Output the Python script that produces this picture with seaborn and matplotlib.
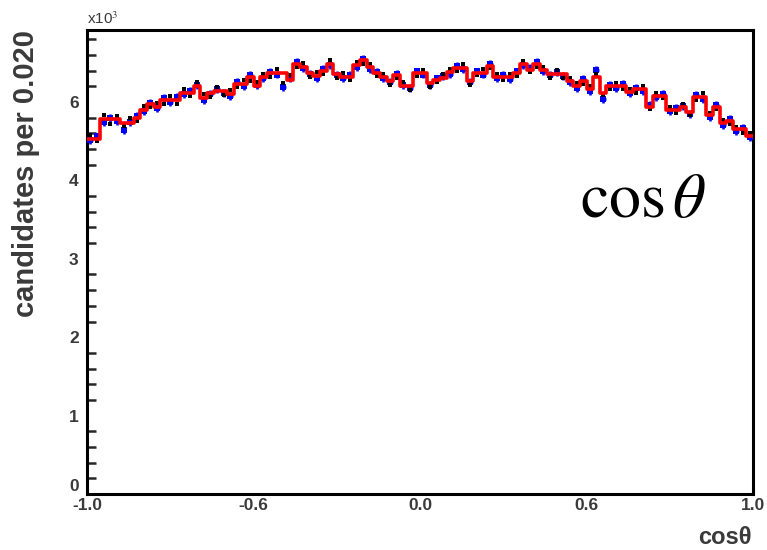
import numpy as np
import pandas as pd
import matplotlib
matplotlib.use("Agg")
import matplotlib.pyplot as plt
import seaborn as sns
from matplotlib.ticker import FixedLocator, MultipleLocator

# ---- data (units of 10^3 candidates per 0.020 bin) ----
bin_edges = np.linspace(-1.0, 1.0, 101)
fit_red = [4.53, 4.53, 4.78, 4.78, 4.78, 4.73, 4.73, 4.80, 4.90, 4.98,
           4.94, 5.02, 5.03, 5.03, 5.12, 5.12, 5.20, 5.05, 5.12, 5.14,
           5.14, 5.10, 5.23, 5.23, 5.32, 5.21, 5.32, 5.37, 5.37, 5.37,
           5.28, 5.49, 5.45, 5.37, 5.33, 5.40, 5.49, 5.36, 5.32, 5.32,
           5.47, 5.53, 5.45, 5.37, 5.32, 5.27, 5.34, 5.20, 5.20, 5.37,
           5.37, 5.24, 5.28, 5.31, 5.38, 5.44, 5.44, 5.27, 5.37, 5.37,
           5.46, 5.32, 5.32, 5.32, 5.37, 5.49, 5.41, 5.49, 5.41, 5.36,
           5.36, 5.36, 5.27, 5.20, 5.27, 5.16, 5.32, 5.12, 5.20, 5.20,
           5.20, 5.13, 5.16, 5.16, 4.94, 5.08, 5.08, 4.90, 4.90, 4.93,
           4.87, 5.07, 5.07, 4.83, 4.94, 4.73, 4.76, 4.65, 4.65, 4.57]
data_blue = [4.52, 4.56, 4.74, 4.80, 4.76, 4.64, 4.75, 4.82, 4.88, 4.99,
             4.92, 5.05, 5.00, 5.06, 5.10, 5.14, 5.22, 5.02, 5.10, 5.16,
             5.12, 5.08, 5.25, 5.20, 5.34, 5.22, 5.30, 5.38, 5.35, 5.19,
             5.30, 5.51, 5.43, 5.36, 5.31, 5.42, 5.47, 5.35, 5.30, 5.34,
             5.45, 5.55, 5.42, 5.38, 5.30, 5.25, 5.36, 5.22, 5.18, 5.39,
             5.35, 5.22, 5.30, 5.33, 5.36, 5.46, 5.42, 5.25, 5.39, 5.35,
             5.48, 5.30, 5.34, 5.29, 5.39, 5.47, 5.43, 5.51, 5.39, 5.34,
             5.38, 5.33, 5.25, 5.18, 5.29, 5.14, 5.41, 5.04, 5.22, 5.18,
             5.23, 5.11, 5.18, 5.14, 4.96, 5.06, 5.10, 4.88, 4.92, 4.95,
             4.85, 5.09, 5.04, 4.81, 4.96, 4.71, 4.78, 4.63, 4.67, 4.55]
data_black = [4.58, 4.50, 4.84, 4.72, 4.82, 4.70, 4.80, 4.76, 4.95, 4.93,
              4.99, 4.98, 5.08, 4.98, 5.16, 5.08, 5.25, 5.10, 5.06, 5.19,
              5.09, 5.15, 5.19, 5.28, 5.27, 5.26, 5.36, 5.32, 5.42, 5.24,
              5.34, 5.45, 5.50, 5.32, 5.38, 5.36, 5.53, 5.30, 5.37, 5.28,
              5.51, 5.49, 5.48, 5.33, 5.36, 5.22, 5.30, 5.25, 5.15, 5.33,
              5.41, 5.19, 5.26, 5.36, 5.42, 5.40, 5.48, 5.22, 5.34, 5.42,
              5.43, 5.36, 5.28, 5.36, 5.33, 5.52, 5.38, 5.45, 5.45, 5.30,
              5.41, 5.31, 5.30, 5.24, 5.23, 5.20, 5.36, 5.09, 5.16, 5.24,
              5.17, 5.16, 5.12, 5.20, 4.91, 5.12, 5.05, 4.93, 4.86, 4.98,
              4.83, 5.03, 5.11, 4.86, 4.91, 4.77, 4.72, 4.68, 4.61, 4.60]
data_err = 0.05

x_tick_pos = [-1.0, -0.5, 0.0, 0.5, 1.0]
x_tick_labels = ["-1.0", "-0.6", "0.0", "0.6", "1.0"]
y_tick_pos = [0, 1, 2, 3, 4, 5]
y_tick_labels = ["0", "1", "2", "3", "4", "6"]

centers = 0.5 * (bin_edges[:-1] + bin_edges[1:])
df = pd.DataFrame({"x": centers, "fit": fit_red, "blue": data_blue, "black": data_black})

sns.set_style("white")
plt.rcParams["font.family"] = ["Liberation Sans", "DejaVu Sans"]
plt.rcParams["mathtext.fontset"] = "stix"

fig = plt.figure(figsize=(7.67, 5.5), dpi=100)
ax = fig.add_axes([87 / 767, 1 - 494 / 550, (753 - 87) / 767, (494 - 30) / 550])

# blue data points with error bars
ax.errorbar(df["x"], df["blue"], xerr=0.008, yerr=data_err, fmt="none",
            ecolor="#0a0aee", elinewidth=1.9, capsize=0, zorder=2)
sns.scatterplot(data=df, x="x", y="blue", ax=ax, color="#0000ff", marker="s",
                s=14, linewidth=0, zorder=3, legend=False)
# black points
sns.scatterplot(data=df, x="x", y="black", ax=ax, color="black", marker="s",
                s=5, linewidth=0, zorder=3, legend=False)
# red histogram
sns.histplot(data=df, x="x", weights="fit", binwidth=0.02, binrange=(-1.0, 1.0),
             element="step", fill=False, color="#ff0000", linewidth=2.6,
             ax=ax, zorder=4)

ax.set_xlim(-1.0, 1.0)
ax.set_ylim(0, (494 - 30) / 78.4)
ax.set_xlabel("")
ax.set_ylabel("")

ax.xaxis.set_major_locator(FixedLocator(x_tick_pos))
ax.set_xticklabels(x_tick_labels)
ax.yaxis.set_major_locator(FixedLocator(y_tick_pos))
ax.set_yticklabels(y_tick_labels)
ax.yaxis.set_minor_locator(MultipleLocator(0.2))

ax.tick_params(axis="x", which="major", direction="in", length=9.5, width=1.8,
               labelsize=12.5, labelcolor="#3a3a3a", pad=3, top=False)
ax.tick_params(axis="y", which="major", direction="in", length=15, width=1.8,
               labelsize=12.5, labelcolor="#3a3a3a", pad=6, right=False)
ax.tick_params(axis="y", which="minor", direction="in", length=6.5, width=1.8,
               left=True, right=False)
for lab in ax.get_xticklabels() + ax.get_yticklabels():
    lab.set_fontweight("bold")
# lift the "0" label a bit, as in the reference
ax.get_yticklabels()[0].set_va("bottom")

for side, sp in ax.spines.items():
    sp.set_visible(True)
    sp.set_color("black")
    sp.set_linewidth(2.2)

# texts
fig.text(26 / 767, 1 - 30 / 550, "candidates per 0.020", rotation=90,
         ha="center", va="top", fontsize=21, fontweight="bold", color="#3a3a3a")
fig.text(752 / 767, 1 - 537 / 550, "cos\u03b8", ha="right", va="center",
         fontsize=17, fontweight="bold", color="#3a3a3a")
fig.text(87 / 767, 1 - 19 / 550, r"x10$^{3}$", ha="left", va="center",
         fontsize=11, color="#3a3a3a")
ax.text(0.835, 0.634, r"$\cos\theta$", transform=ax.transAxes, ha="center",
        va="center", fontsize=46, color="black")

fig.savefig("out.png", dpi=100, facecolor="white")
